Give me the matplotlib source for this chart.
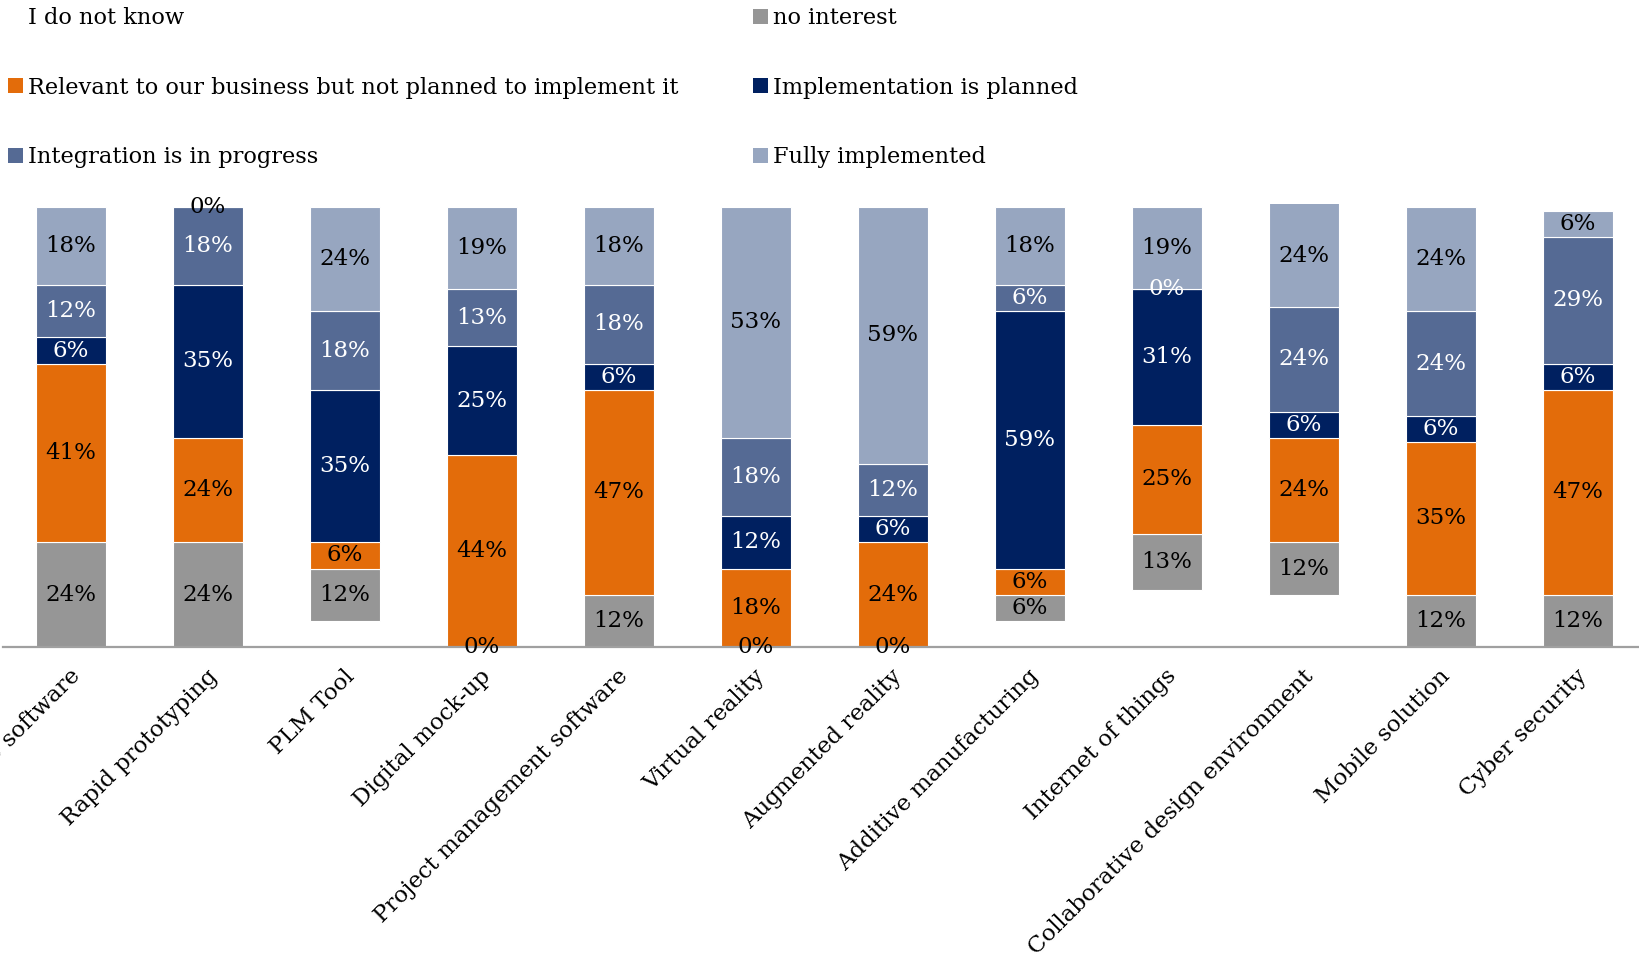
"""
Stacked bar chart: implementation status of digital technologies (share of respondents).
"""

import matplotlib
matplotlib.use("Agg")
import matplotlib.pyplot as plt
import matplotlib.transforms as mtransforms
from matplotlib.patches import Patch
import numpy as np

categories = [
    "CAD software", "Rapid prototyping", "PLM Tool", "Digital mock-up",
    "Project management software", "Virtual reality", "Augmented reality",
    "Additive manufacturing", "Internet of things",
    "Collaborative design environment", "Mobile solution", "Cyber security",
]

# values in %, bottom to top of each stack
do_not_know = [0, 0, 6, 0, 0, 0, 0, 6, 13, 12, 0, 0]
no_interest = [24, 24, 12, 0, 12, 0, 0, 6, 13, 12, 12, 12]
relevant = [41, 24, 6, 44, 47, 18, 24, 6, 25, 24, 35, 47]
planned = [6, 35, 35, 25, 6, 12, 6, 59, 31, 6, 6, 6]
in_progress = [12, 18, 18, 13, 18, 18, 12, 6, 0, 24, 24, 29]
fully = [18, 0, 24, 19, 18, 53, 59, 18, 19, 24, 24, 6]

series = [
    ("I do not know", do_not_know, "#ffffff", None),
    ("no interest", no_interest, "#969696", "black"),
    ("Relevant to our business but not planned to implement it", relevant, "#e36c0a", "black"),
    ("Implementation is planned", planned, "#002060", "white"),
    ("Integration is in progress", in_progress, "#556a94", "white"),
    ("Fully implemented", fully, "#97a6c0", "black"),
]

FONT = "DejaVu Serif"
FS = 16.5
YMAX = 101.5
plt.rcParams["font.family"] = FONT

fig = plt.figure(figsize=(16.4, 9.58), dpi=100)
ax = fig.add_axes([2.5 / 1640, (958 - 647) / 958, 1644 / 1640, 436 * YMAX / 100 / 958])

x = np.arange(len(categories))
bottom = np.zeros(len(categories))
handles = {}
for name, vals, color, txt_color in series:
    vals = np.array(vals, dtype=float)
    bars = ax.bar(x, vals, width=0.51, bottom=bottom, color=color,
                  edgecolor="white", linewidth=0.8)
    if txt_color is not None:
        ax.bar_label(bars, labels=[f"{int(v)}%" for v in vals], label_type="center",
                     color=txt_color, fontsize=FS)
    handles[name] = Patch(facecolor=color, edgecolor="none")
    bottom += vals

ax.set_xlim(-0.5, len(categories) - 0.5)
ax.set_ylim(0, YMAX)
for side in ["left", "right", "top"]:
    ax.spines[side].set_visible(False)
ax.spines["bottom"].set_color("#a0a0a0")
ax.spines["bottom"].set_linewidth(1.6)
ax.set_yticks([])
ax.set_xticks(x)
ax.tick_params(axis="x", length=0, pad=13)
ax.set_xticklabels(categories, rotation=45, ha="right", va="top",
                   rotation_mode="anchor", fontsize=FS)
offset = mtransforms.ScaledTranslation(-2 / 100, 0, fig.dpi_scale_trans)
for lbl in ax.get_xticklabels():
    lbl.set_transform(lbl.get_transform() + offset)

order = [
    "I do not know",
    "Relevant to our business but not planned to implement it",
    "Integration is in progress",
    "no interest",
    "Implementation is planned",
    "Fully implemented",
]
fig.legend([handles[k] for k in order], order, loc="upper left",
           bbox_to_anchor=(8 / 1640, 1 - 7.5 / 958), ncol=2, frameon=False,
           fontsize=16.2, borderpad=0, borderaxespad=0,
           handlelength=0.65, handleheight=0.65, handletextpad=0.25,
           labelspacing=2.1, columnspacing=3.3)

fig.savefig("out.png", dpi=100)
